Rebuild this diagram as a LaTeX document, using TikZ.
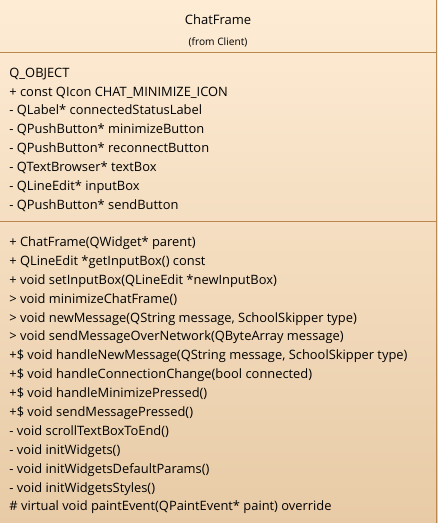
\documentclass[tikz,border=0pt]{standalone}
\usepackage{fontspec}
\setmainfont{Open Sans}
\usetikzlibrary{positioning}
\definecolor{fondhaut}{RGB}{254,236,213}
\definecolor{fondbas}{RGB}{232,203,166}
\definecolor{trait}{RGB}{186,136,78}

\begin{document}
\begin{tikzpicture}[x=1pt, y=-1pt,
	membre/.style={anchor=base west, inner sep=0pt, font=\fontsize{12.9}{15}\selectfont},
	titre/.style={anchor=base, inner sep=0pt, font=\fontsize{13}{15}\selectfont},
	origine/.style={anchor=base, inner sep=0pt, font=\fontsize{10.2}{12}\selectfont}]
	% fond degrade et bord droit
	\shade[top color=fondhaut, bottom color=fondbas] (0,0) rectangle (438,523);
	\draw[trait] (436.5,0) -- (436.5,523);
	\draw[trait] (0,52.5) -- (436.5,52.5);
	\draw[trait] (0,221.5) -- (436.5,221.5);
	
	% nom de la classe
	\node[titre] (nom) at (218,24) {ChatFrame};
	\node[origine] (paquet) at (218,45) {(from Client)};
	
	% attributs
	\foreach \txt [count=\i] in {
		{Q\_OBJECT},
		{+ const QIcon CHAT\_MINIMIZE\_ICON},
		{- QLabel* connectedStatusLabel},
		{- QPushButton* minimizeButton},
		{- QPushButton* reconnectButton},
		{- QTextBrowser* textBox},
		{- QLineEdit* inputBox},
		{- QPushButton* sendButton}} {
		\node[membre] (attr\i) at (9,{77+18.9*(\i-1)}) {\txt};
	}
	
	% operations
	\foreach \txt [count=\i] in {
		{+ ChatFrame(QWidget* parent)},
		{+ QLineEdit *getInputBox() const},
		{+ void setInputBox(QLineEdit *newInputBox)},
		{> void minimizeChatFrame()},
		{> void newMessage(QString message, SchoolSkipper type)},
		{> void sendMessageOverNetwork(QByteArray message)},
		{+\$ void handleNewMessage(QString message, SchoolSkipper type)},
		{+\$ void handleConnectionChange(bool connected)},
		{+\$ void handleMinimizePressed()},
		{+\$ void sendMessagePressed()},
		{- void scrollTextBoxToEnd()},
		{- void initWidgets()},
		{- void initWidgetsDefaultParams()},
		{- void initWidgetsStyles()},
		{\# virtual void paintEvent(QPaintEvent* paint) override}} {
		\node[membre] (oper\i) at (9,{246.5+18.9*(\i-1)}) {\txt};
	}
\end{tikzpicture}
\end{document}
